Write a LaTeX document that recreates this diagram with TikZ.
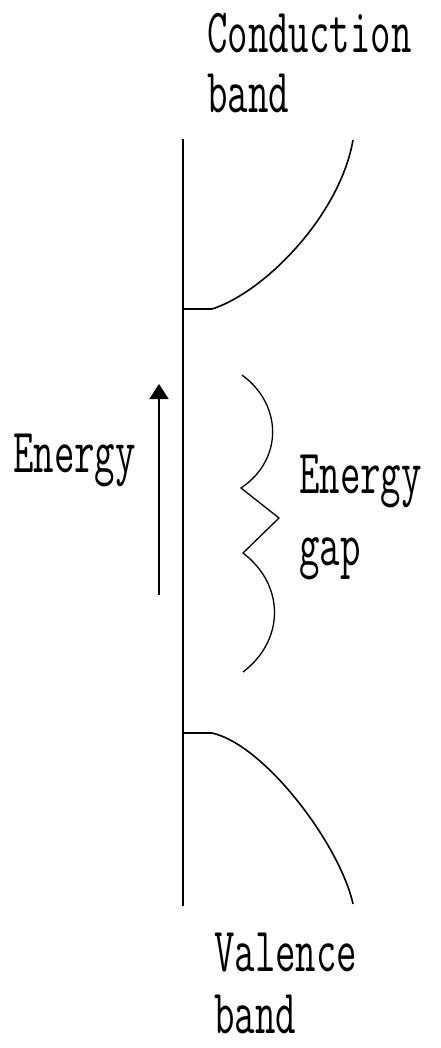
\documentclass[tikz,border=0pt]{standalone}
\usetikzlibrary{arrows.meta}
\newcommand{\narrowtxt}[1]{\scalebox{0.63}[1]{\ttfamily\fontsize{63}{65}\selectfont #1}}
\begin{document}
\begin{tikzpicture}[x=1pt,y=-1pt,
  lbl/.style={inner sep=0pt,anchor=base west},
  axisline/.style={line width=2.2pt},
  bandline/.style={line width=1.6pt},
  gapline/.style={line width=1.3pt,line join=miter}]
\useasboundingbox[fill=white] (0,0) rectangle (440,1048);
% axis
\coordinate (axtop) at (183,139);
\coordinate (axbot) at (183,906);
\draw[axisline] (axtop) -- (axbot);
% conduction band
\coordinate (cb0) at (183,309);
\coordinate (cb1) at (212,309);
\coordinate (cb2) at (353,140);
\draw[bandline] (cb0) -- (cb1) .. controls (265,292) and (340,215) .. (cb2);
% valence band
\coordinate (vb0) at (183,733);
\coordinate (vb1) at (212,733);
\coordinate (vb2) at (353,904);
\draw[bandline] (vb0) -- (vb1) .. controls (265,745) and (340,845) .. (vb2);
% energy arrow
\coordinate (arbot) at (159,595);
\coordinate (artop) at (159,384);
\draw[line width=1.8pt,-{Triangle[width=19pt,length=15pt]}] (arbot) -- (artop);
% gap brace
\coordinate (g0) at (242,375);
\coordinate (g1) at (241,488);
\coordinate (g2) at (279,518);
\coordinate (g3) at (243,553);
\coordinate (g4) at (243,672);
\draw[gapline] (g0) .. controls (283,405) and (283,460) .. (g1) -- (g2) -- (g3)
   .. controls (285,585) and (285,640) .. (g4);
% labels
\node[lbl] (cond1) at (207,53) {\narrowtxt{Conduction}};
\node[lbl] (cond2) at (207,113) {\narrowtxt{band}};
\node[lbl] (en) at (13,472) {\narrowtxt{Energy}};
\node[lbl] (gap1) at (299,493) {\narrowtxt{Energy}};
\node[lbl] (gap2) at (299,565) {\narrowtxt{gap}};
\node[lbl] (val1) at (214,971) {\narrowtxt{Valence}};
\node[lbl] (val2) at (214,1033) {\narrowtxt{band}};
\end{tikzpicture}
\end{document}
